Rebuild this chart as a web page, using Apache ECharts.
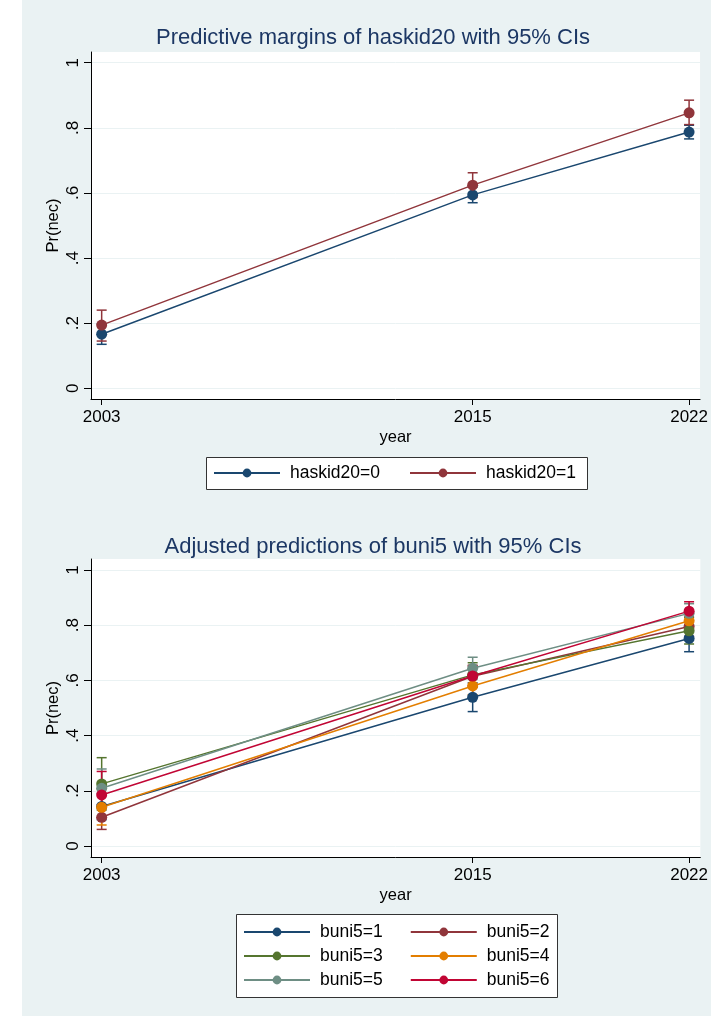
<!DOCTYPE html>
<html>
<head>
<meta charset="utf-8">
<script src="https://cdn.jsdelivr.net/npm/echarts@6/dist/echarts.min.js"></script>
<style>
  html, body { margin: 0; padding: 0; background: #ffffff; }
  #chart { width: 711px; height: 1016px; }
</style>
</head>
<body>
<div id="chart"></div>
<script>
// Survey years on the x axis and probability ticks on the y axis
const years = [2003, 2015, 2022];
const yTicks = [0, 0.2, 0.4, 0.6, 0.8, 1];
const yTickLabels = ['0', '.2', '.4', '.6', '.8', '1'];

// Predictive margins of haskid20 (point estimate, lower and upper 95% CI)
const haskidNames = ['haskid20=0', 'haskid20=1'];
const haskid0 = [0.166, 0.594, 0.787];
const haskid0Lo = [0.135, 0.570, 0.766];
const haskid0Hi = [0.197, 0.618, 0.808];
const haskid1 = [0.194, 0.624, 0.846];
const haskid1Lo = [0.145, 0.586, 0.810];
const haskid1Hi = [0.240, 0.662, 0.885];

// Adjusted predictions of buni5 (point estimate, lower and upper 95% CI)
const buniNames = ['buni5=1', 'buni5=2', 'buni5=3', 'buni5=4', 'buni5=5', 'buni5=6'];
const buni1 = [0.143, 0.539, 0.752];
const buni1Lo = [0.095, 0.487, 0.704];
const buni1Hi = [0.190, 0.591, 0.800];
const buni2 = [0.104, 0.615, 0.795];
const buni2Lo = [0.060, 0.575, 0.760];
const buni2Hi = [0.150, 0.655, 0.830];
const buni3 = [0.225, 0.620, 0.780];
const buni3Lo = [0.130, 0.580, 0.732];
const buni3Hi = [0.320, 0.664, 0.828];
const buni4 = [0.140, 0.580, 0.816];
const buni4Lo = [0.076, 0.548, 0.782];
const buni4Hi = [0.205, 0.612, 0.850];
const buni5 = [0.209, 0.644, 0.843];
const buni5Lo = [0.140, 0.604, 0.802];
const buni5Hi = [0.279, 0.684, 0.878];
const buni6 = [0.185, 0.616, 0.851];
const buni6Lo = [0.100, 0.580, 0.817];
const buni6Hi = [0.270, 0.652, 0.885];

const FONT = "'Liberation Sans', Arial, Helvetica, sans-serif";
const palette = ['#1a476f', '#90353b', '#55752f', '#e37e00', '#6e8e84', '#c10534'];

function xAxisFor(gridIndex, min, max) {
  return {
    type: 'value', gridIndex: gridIndex, min: min, max: max,
    axisLine: { show: true, onZero: false, lineStyle: { color: '#000', width: 1 } },
    axisTick: { show: true, customValues: years, length: 6, lineStyle: { color: '#000', width: 1 } },
    axisLabel: {
      customValues: years, color: '#000', fontSize: 17, fontFamily: FONT, margin: 10,
      formatter: function (v) { return String(Math.round(v)); }
    },
    splitLine: { show: false },
    name: 'year', nameLocation: 'middle', nameGap: 30, nameMoveOverlap: false,
    nameTextStyle: { color: '#000', fontSize: 16.5, fontFamily: FONT }
  };
}

function yAxisFor(gridIndex, min, max) {
  return {
    type: 'value', gridIndex: gridIndex, min: min, max: max,
    axisLine: { show: true, onZero: false, lineStyle: { color: '#000', width: 1 } },
    axisTick: { show: true, customValues: yTicks, length: 7, lineStyle: { color: '#000', width: 1 } },
    axisLabel: {
      customValues: yTicks, rotate: 90, color: '#000', fontSize: 17, fontFamily: FONT, margin: 9,
      formatter: function (v) {
        const i = yTicks.findIndex(function (t) { return Math.abs(t - v) < 1e-9; });
        return i >= 0 ? yTickLabels[i] : '';
      }
    },
    splitLine: { show: true, lineStyle: { color: '#eaf2f3', width: 1 } },
    name: 'Pr(nec)', nameLocation: 'middle', nameGap: 29, nameMoveOverlap: false,
    nameTextStyle: { color: '#000', fontSize: 16.5, fontFamily: FONT }
  };
}

// Vertical CI range with caps at both ends
function ciSeries(lo, hi, color, axisIndex) {
  return {
    type: 'custom', xAxisIndex: axisIndex, yAxisIndex: axisIndex, silent: true, z: 2,
    data: years.map(function (y, i) { return [y, lo[i], hi[i]]; }),
    encode: { x: 0, y: [1, 2] },
    renderItem: function (params, api) {
      const x = api.value(0);
      const a = api.coord([x, api.value(1)]);
      const b = api.coord([x, api.value(2)]);
      const w = 5;
      const st = { stroke: color, lineWidth: 1.5 };
      return {
        type: 'group',
        children: [
          { type: 'line', shape: { x1: a[0], y1: a[1], x2: b[0], y2: b[1] }, style: st },
          { type: 'line', shape: { x1: a[0] - w, y1: a[1], x2: a[0] + w, y2: a[1] }, style: st },
          { type: 'line', shape: { x1: b[0] - w, y1: b[1], x2: b[0] + w, y2: b[1] }, style: st }
        ]
      };
    }
  };
}

function lineSeries(name, values, color, axisIndex) {
  return {
    type: 'line', name: name, xAxisIndex: axisIndex, yAxisIndex: axisIndex, z: 3,
    data: years.map(function (y, i) { return [y, values[i]]; }),
    symbol: 'circle', symbolSize: 11, showSymbol: true,
    lineStyle: { color: color, width: 1.5 },
    itemStyle: { color: color },
    emphasis: { disabled: true },
    animation: false
  };
}

const topGroups = [
  [haskidNames[0], haskid0, haskid0Lo, haskid0Hi],
  [haskidNames[1], haskid1, haskid1Lo, haskid1Hi]
];
const bottomGroups = [
  [buniNames[0], buni1, buni1Lo, buni1Hi],
  [buniNames[1], buni2, buni2Lo, buni2Hi],
  [buniNames[2], buni3, buni3Lo, buni3Hi],
  [buniNames[3], buni4, buni4Lo, buni4Hi],
  [buniNames[4], buni5, buni5Lo, buni5Hi],
  [buniNames[5], buni6, buni6Lo, buni6Hi]
];

const series = [];
topGroups.forEach(function (g, i) { series.push(ciSeries(g[2], g[3], palette[i], 0)); });
topGroups.forEach(function (g, i) { series.push(lineSeries(g[0], g[1], palette[i], 0)); });
bottomGroups.forEach(function (g, i) { series.push(ciSeries(g[2], g[3], palette[i], 1)); });
bottomGroups.forEach(function (g, i) { series.push(lineSeries(g[0], g[1], palette[i], 1)); });

const legendText = { color: '#000', fontSize: 17.5, fontFamily: FONT, lineHeight: 20 };

const option = {
  animation: false,
  backgroundColor: '#ffffff',
  graphic: [
    { type: 'rect', z: -10, silent: true, shape: { x: 22, y: 0, width: 689, height: 1016 }, style: { fill: '#eaf2f3' } },
    { type: 'rect', z: 0, silent: true, shape: { x: 206.5, y: 457.5, width: 381, height: 32 }, style: { fill: '#fff', stroke: '#333', lineWidth: 1 } },
    { type: 'rect', z: 0, silent: true, shape: { x: 236.5, y: 914.5, width: 321, height: 83 }, style: { fill: '#fff', stroke: '#333', lineWidth: 1 } }
  ],
  title: [
    { text: 'Predictive margins of haskid20 with 95% CIs', left: 368, top: 22, textAlign: 'center',
      textStyle: { color: '#1c3764', fontSize: 22, fontWeight: 'normal', fontFamily: FONT } },
    { text: 'Adjusted predictions of buni5 with 95% CIs', left: 368, top: 531, textAlign: 'center',
      textStyle: { color: '#1c3764', fontSize: 22, fontWeight: 'normal', fontFamily: FONT } }
  ],
  grid: [
    { left: 91, top: 52, right: 8, height: 347, show: true, backgroundColor: '#fff', borderWidth: 0 },
    { left: 91, top: 559, right: 9, height: 298, show: true, backgroundColor: '#fff', borderWidth: 0 }
  ],
  xAxis: [xAxisFor(0, 2002.655, 2022.355), xAxisFor(1, 2002.655, 2022.364)],
  yAxis: [yAxisFor(0, -0.033, 1.033), yAxisFor(1, -0.04, 1.04)],
  legend: [
    { data: haskidNames, left: 213, top: 463, padding: 0, itemWidth: 66, itemHeight: 11, itemGap: 29,
      selectedMode: false, textStyle: Object.assign({ padding: [0, 0, 0, 5] }, legendText) },
    { data: buniNames, left: 243, top: 922, padding: 0, width: 340, itemWidth: 66, itemHeight: 11, itemGap: 4,
      selectedMode: false, textStyle: Object.assign({ padding: [0, 23, 0, 5] }, legendText) }
  ],
  series: series
};

const chart = echarts.init(document.getElementById('chart'), null, { renderer: 'canvas' });
chart.setOption(option);
</script>
</body>
</html>
